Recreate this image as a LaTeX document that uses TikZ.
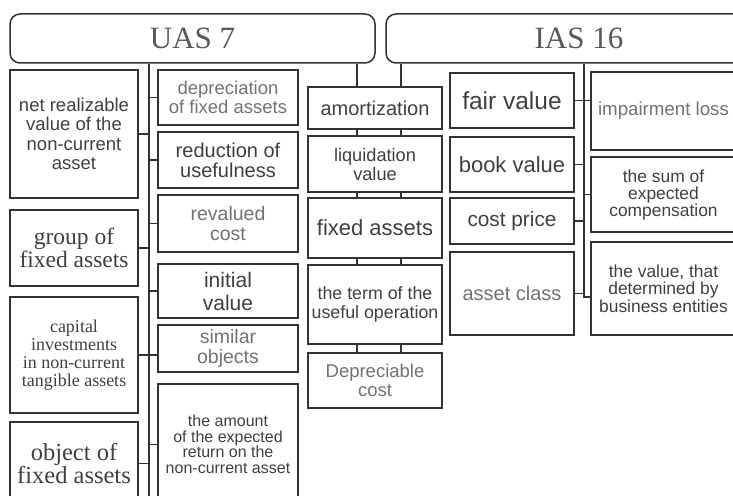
\documentclass[tikz,border=0pt]{standalone}
\usepackage{fontspec}
\setmainfont{Liberation Serif}
\setsansfont{Liberation Sans}
\usepackage{tikz}
\usetikzlibrary{positioning, calc}
\usepackage{xcolor}

\newcommand{\fsz}[2]{\fontsize{#1}{#2}\selectfont}
\tikzset{
    box/.style={draw=black!80, line width=1.5pt, inner sep=0pt, align=center, text=black!75},
    title/.style={box, rounded corners=10pt, text=black!65, font=\rmfamily\fsz{31}{31}},
    pale/.style={text=black!55},
    link/.style={draw=black!80, line width=1.5pt},
}

\begin{document}
\begin{tikzpicture}[x=1pt, y=-1pt]
    \useasboundingbox (0,0) rectangle (733,495);
    \fill[white] (0,0) rectangle (733,495);
    \clip (0,0) rectangle (733,495);

    \node[title, minimum width=365pt, minimum height=49pt] (uas) at (192.5,38.5) {UAS 7};
    \node[title, minimum width=386pt, minimum height=49pt] (ias) at (579,38.5) {IAS 16};

    % left column
    \node[box, minimum width=128pt, minimum height=128pt, font=\sffamily\fsz{18.5}{19.5}] (net) at (74,134) {net realizable\\value of the\\non-current\\asset};
    \node[box, minimum width=128pt, minimum height=76pt, font=\rmfamily\fsz{23.5}{23}] (group) at (74,248) {group of\\fixed assets};
    \node[box, minimum width=128pt, minimum height=116pt, font=\rmfamily\fsz{18}{18}] (capital) at (74,355) {capital\\investments\\in non-current\\tangible assets};
    \node[box, minimum width=128pt, minimum height=83pt, font=\rmfamily\fsz{24.5}{23}] (object) at (74,463.5) {object of\\fixed assets};

    % second column
    \node[box, pale, minimum width=140pt, minimum height=55pt, font=\sffamily\fsz{18.5}{19}] (dep) at (228,97.5) {depreciation\\of fixed assets};
    \node[box, minimum width=140pt, minimum height=56pt, font=\sffamily\fsz{20}{20}] (red) at (228,160) {reduction of\\usefulness};
    \node[box, pale, minimum width=140pt, minimum height=57pt, font=\sffamily\fsz{19.5}{20}] (rev) at (228,223.5) {revalued\\cost};
    \node[box, minimum width=140pt, minimum height=54pt, font=\sffamily\fsz{21}{23}] (init) at (228,291) {initial\\value};
    \node[box, pale, minimum width=140pt, minimum height=47pt, font=\sffamily\fsz{19.5}{20}] (sim) at (228,348.5) {similar\\objects};
    \node[box, minimum width=140pt, minimum height=121pt, font=\sffamily\fsz{16}{15.5}] (amt) at (228,444.5) {the amount\\of the expected\\return on the\\non-current asset};

    % third column
    \node[box, minimum width=134pt, minimum height=42pt, font=\sffamily\fsz{20}{20}] (amort) at (375,108) {amortization};
    \node[box, minimum width=134pt, minimum height=56pt, font=\sffamily\fsz{18.2}{19}] (liq) at (375,164) {liquidation\\value};
    \node[box, minimum width=134pt, minimum height=60pt, font=\sffamily\fsz{22}{22}] (fixed) at (375,228) {fixed assets};
    \node[box, minimum width=134pt, minimum height=79pt, font=\sffamily\fsz{17.8}{18.5}] (term) at (375,304.5) {the term of the\\useful operation};
    \node[box, pale, minimum width=134pt, minimum height=55pt, font=\sffamily\fsz{18.5}{19}] (depc) at (375,380.5) {Depreciable\\cost};

    % fourth column
    \node[box, minimum width=124pt, minimum height=55pt, font=\sffamily\fsz{24.5}{24.5}] (fair) at (512,100.5) {fair value};
    \node[box, minimum width=124pt, minimum height=55pt, font=\sffamily\fsz{22}{22}] (book) at (512,164.5) {book value};
    \node[box, minimum width=124pt, minimum height=46pt, font=\sffamily\fsz{20.8}{20.8}] (cost) at (512,221) {cost price};
    \node[box, pale, minimum width=124pt, minimum height=83pt, font=\sffamily\fsz{20}{20}] (aclass) at (512,293.5) {asset class};

    % fifth column
    \node[box, pale, minimum width=145pt, minimum height=78pt, font=\sffamily\fsz{18.7}{18.7}] (imp) at (663.5,111) {impairment loss};
    \node[box, minimum width=145pt, minimum height=75pt, font=\sffamily\fsz{17.4}{17}] (sum) at (663.5,194.5) {the sum of\\expected\\compensation};
    \node[box, minimum width=145pt, minimum height=93pt, font=\sffamily\fsz{17.4}{17.5}] (val) at (663.5,288.5) {the value, that\\determined by\\business entities};

    % UAS 7 trunk
    \coordinate (ta) at (149,500);
    \draw[link] (ta |- uas.south) -- (ta);
    \foreach \n in {net,group,object}
        \draw[link] (\n.east) -- (\n.east -| ta);
    \draw[link] (capital.east) -- (capital.east -| sim.west);
    \foreach \n in {dep,red,rev,init,amt}
        \draw[link] (ta |- \n.west) -- (\n.west);

    % middle chain
    \draw[link] ([xshift=-18pt]amort.north) -- ([xshift=-18pt]amort.north |- uas.south);
    \draw[link] ([xshift=26pt]amort.north) -- ([xshift=26pt]amort.north |- ias.south);
    \foreach \a/\b in {amort/liq,liq/fixed,fixed/term,term/depc} {
        \draw[link] ([xshift=-18pt]\a.south) -- ([xshift=-18pt]\b.north);
        \draw[link] ([xshift=26pt]\a.south) -- ([xshift=26pt]\b.north);
    }

    % IAS 16 trunk
    \coordinate (tb) at (584,297);
    \draw[link] (tb |- ias.south) -- (tb) -- (tb -| val.west);
    \draw[link] (fair.east) -- (fair.east -| imp.west);
    \foreach \n in {book,cost,aclass}
        \draw[link] (\n.east) -- (\n.east -| tb);
    \draw[link] (tb |- sum.west) -- (sum.west);
\end{tikzpicture}
\end{document}
